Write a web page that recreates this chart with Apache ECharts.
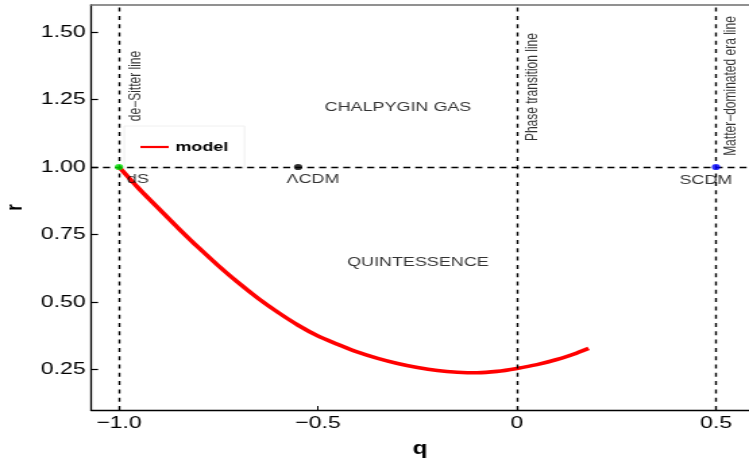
<!DOCTYPE html>
<html>
<head>
<meta charset="utf-8">
<script src="https://cdn.jsdelivr.net/npm/echarts@6/dist/echarts.min.js"></script>
<style>
  html, body { margin: 0; padding: 0; background: #fff; overflow: hidden; }
  #stage { width: 749px; height: 464px; overflow: hidden; }
  /* the plot is laid out on a narrower canvas and widened horizontally */
  #chart { width: 555px; height: 464px; transform: scaleX(1.34955); transform-origin: 0 0; }
</style>
</head>
<body>
<div id="stage"><div id="chart"></div></div>
<script>
// statefinder trajectory of the model in the (q, r) plane
const qValues = [-1.00, -0.95, -0.90, -0.85, -0.80, -0.75, -0.70, -0.65, -0.60, -0.55, -0.50, -0.45, -0.40,
                 -0.35, -0.30, -0.25, -0.20, -0.15, -0.10, -0.05, 0.00, 0.05, 0.10, 0.15, 0.18];
const rValues = [1.000, 0.920, 0.846, 0.772, 0.701, 0.634, 0.571, 0.513, 0.461, 0.414, 0.374, 0.343, 0.314,
                 0.291, 0.272, 0.257, 0.246, 0.240, 0.238, 0.243, 0.254, 0.268, 0.287, 0.311, 0.328];

// fixed points
const pointNames = ['dS', '\u039BCDM', 'SCDM'];
const pointQ = [-1.0, -0.55, 0.5];
const pointR = [1.0, 1.0, 1.0];

// reference lines and their captions
const verticalLineQ = [-1.0, 0.0, 0.5];
const verticalLineNames = ['de\u2212Sitter line', 'Phase transition line', 'Matter\u2212dominated era line'];
const captionQ = [-0.958, 0.038, 0.538];
const captionR = [1.30, 1.296, 1.30];
const horizontalLineR = 1.0;

// region names and where they sit in (q, r)
const regionNames = ['CHALPYGIN GAS', 'QUINTESSENCE'];
const regionQ = [-0.299, -0.249];
const regionR = [1.222, 0.648];

// axis ticks
const xTicks = [-1.0, -0.5, 0, 0.5];
const xTickLabels = ['\u22121.0', '\u22120.5', '0', '0.5'];
const yTicks = [0.25, 0.5, 0.75, 1.0, 1.25, 1.5];
const yTickLabels = ['0.25', '0.50', '0.75', '1.00', '1.25', '1.50'];

const FONT = "'Liberation Sans', Arial, Helvetica, sans-serif";
const pointColors = ['#00e000', '#000000', '#0000ff'];
const pointLabelOffsets = [[14, 12.5], [11, 12.5], [-7.5, 13]];

const chart = echarts.init(document.getElementById('chart'));

const curve = qValues.map((q, i) => [q, rValues[i]]);

const fixedPoints = pointNames.map((name, i) => ({
  name: name,
  value: [pointQ[i], pointR[i]],
  itemStyle: { color: pointColors[i] },
  label: { offset: pointLabelOffsets[i] }
}));

const notes = [];
verticalLineNames.forEach((name, i) => {
  notes.push({
    name: name,
    value: [captionQ[i], captionR[i]],
    label: { rotate: 90, fontSize: 12 }
  });
});
regionNames.forEach((name, i) => {
  notes.push({
    name: name,
    value: [regionQ[i], regionR[i]],
    label: { rotate: 0, fontSize: 13.3 }
  });
});

const xMin = -1.0704, xMax = 0.583;

chart.setOption({
  animation: false,
  backgroundColor: '#ffffff',
  grid: { left: 67.43, right: 0, top: 5, bottom: 54, containLabel: false, outerBoundsMode: 'none' },
  legend: {
    data: [{ name: 'model', icon: 'rect' }],
    left: 92, top: 126,
    orient: 'vertical',
    padding: [13.5, 12, 13.5, 12],
    itemWidth: 21, itemHeight: 2.2,
    backgroundColor: '#ffffff',
    borderColor: '#f0f0f0', borderWidth: 1,
    itemStyle: { color: '#ff0000', borderWidth: 0 },
    textStyle: { fontFamily: FONT, fontWeight: 'bold', fontSize: 13.3, color: '#000', lineHeight: 15 }
  },
  xAxis: [{
    type: 'value', min: xMin, max: xMax, position: 'bottom',
    name: 'q', nameLocation: 'middle', nameGap: 30,
    nameTextStyle: { fontFamily: FONT, fontWeight: 'bold', fontSize: 18, color: '#000' },
    axisLine: { show: true, onZero: false, lineStyle: { color: '#000', width: 1.3 } },
    axisTick: { show: true, inside: true, length: 4, customValues: xTicks, lineStyle: { color: '#000', width: 1 } },
    axisLabel: {
      show: true, margin: 5, customValues: xTicks,
      fontFamily: FONT, fontSize: 17, color: '#000',
      formatter: v => xTickLabels[xTicks.findIndex(t => Math.abs(t - v) < 1e-9)] ?? ''
    },
    splitLine: { show: false }
  }, {
    type: 'value', min: xMin, max: xMax, position: 'top',
    axisLine: { show: true, onZero: false, lineStyle: { color: '#6e6e6e', width: 1.6 } },
    axisTick: { show: false }, axisLabel: { show: false }, splitLine: { show: false }
  }],
  yAxis: {
    type: 'value', min: 0.1, max: 1.6,
    name: 'r', nameLocation: 'middle', nameGap: 46, nameRotate: 90,
    nameTextStyle: { fontFamily: FONT, fontWeight: 'bold', fontSize: 17, color: '#000' },
    axisLine: { show: true, onZero: false, lineStyle: { color: '#000', width: 1.3 } },
    axisTick: { show: true, inside: true, length: 5.2, customValues: yTicks, lineStyle: { color: '#000', width: 1.2 } },
    axisLabel: {
      show: true, margin: 4, customValues: yTicks,
      fontFamily: FONT, fontSize: 17, color: '#000',
      formatter: v => yTickLabels[yTicks.findIndex(t => Math.abs(t - v) < 1e-9)] ?? ''
    },
    splitLine: { show: false }
  },
  series: [
    {
      name: 'guides',
      type: 'scatter',
      data: [],
      silent: true,
      z: 1,
      markLine: {
        silent: true,
        symbol: ['none', 'none'],
        label: { show: false },
        animation: false,
        data: [
          ...verticalLineQ.map(q => ({ xAxis: q, lineStyle: { color: '#000', width: 1.4, type: [4, 4.3] } })),
          { yAxis: horizontalLineR, lineStyle: { color: '#000', width: 1.3, type: [5.2, 3.7] } }
        ]
      }
    },
    {
      name: 'model',
      type: 'line',
      data: curve,
      symbol: 'none',
      smooth: 0.3,
      z: 3,
      lineStyle: { color: '#ff0000', width: 3.6 },
      itemStyle: { color: '#ff0000' }
    },
    {
      name: 'points',
      type: 'scatter',
      data: fixedPoints,
      symbol: 'circle',
      symbolSize: 6.2,
      z: 5,
      label: {
        show: true, position: 'inside', formatter: '{b}',
        fontFamily: FONT, fontSize: 13.3, color: '#000'
      }
    },
    {
      name: 'notes',
      type: 'scatter',
      data: notes,
      symbolSize: 0,
      silent: true,
      z: 5,
      label: {
        show: true, position: 'inside', formatter: '{b}',
        fontFamily: FONT, color: '#000'
      }
    }
  ]
});
</script>
</body>
</html>
